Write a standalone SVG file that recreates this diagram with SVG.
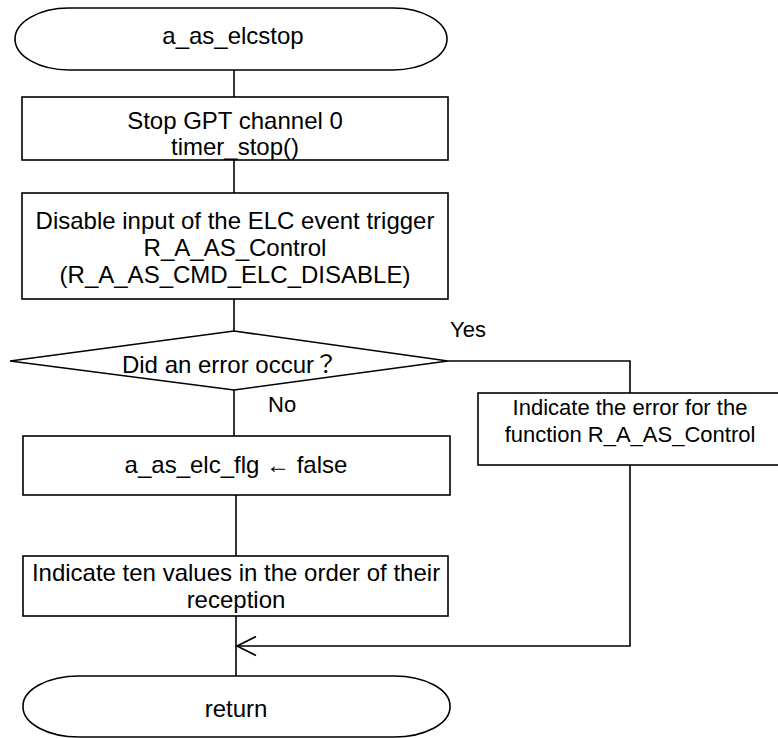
<svg xmlns="http://www.w3.org/2000/svg" width="778" height="738" viewBox="0 0 778 738">
  <style>
    .shape { fill: #ffffff; stroke: #000000; stroke-width: 1.6; }
    .line { fill: none; stroke: #000000; stroke-width: 1.6; }
    .t { font-family: "Liberation Sans", Arial, "Noto Sans CJK JP", sans-serif; font-size: 24px; fill: #000000; text-anchor: middle; }
    .s { font-size: 22px; }
    .l { text-anchor: start; }
  </style>
  <rect x="0" y="0" width="778" height="738" fill="#ffffff"/>

  <!-- connectors -->
  <g id="connectors">
    <path class="line" d="M234 70 V97"/>
    <path class="line" d="M234 160 V193"/>
    <path class="line" d="M234 299 V331"/>
    <path class="line" d="M448 361 H630 V393"/>
    <path class="line" d="M234 390 V436"/>
    <path class="line" d="M236 495 V556"/>
    <path class="line" d="M236 616 V676"/>
    <path class="line" d="M630 465 V646 H237"/>
    <path class="line" d="M256 636.5 L237 646 L256 655.5"/>
    <text class="t s l" x="450" y="337">Yes</text>
    <text class="t s l" x="268" y="412">No</text>
  </g>

  <g id="start">
    <rect class="shape" x="15" y="8" width="432" height="62" rx="54" ry="31"/>
    <text class="t" x="233" y="44">a_as_elcstop</text>
  </g>

  <g id="stop-gpt">
    <rect class="shape" x="22" y="97" width="426" height="63"/>
    <text class="t" x="235" y="129">Stop GPT channel 0</text>
    <text class="t" x="235" y="155">timer_stop()</text>
  </g>

  <g id="elc-disable">
    <rect class="shape" x="22" y="193" width="426" height="106"/>
    <text class="t" x="235" y="229">Disable input of the ELC event trigger</text>
    <text class="t" x="235" y="256">R_A_AS_Control</text>
    <text class="t" x="235" y="283">(R_A_AS_CMD_ELC_DISABLE)</text>
  </g>

  <g id="error-check">
    <polygon class="shape" points="234,331 448,361 234,390 10,361"/>
    <text class="t" x="230" y="373">Did an error occur？</text>
  </g>

  <g id="error-report">
    <rect class="shape" x="478" y="393" width="310" height="72"/>
    <text class="t s" x="630" y="415">Indicate the error for the</text>
    <text class="t s" x="630" y="442">function R_A_AS_Control</text>
  </g>

  <g id="clear-flag">
    <rect class="shape" x="23" y="436" width="427" height="59"/>
    <text class="t" x="236" y="473">a_as_elc_flg ← false</text>
  </g>

  <g id="show-values">
    <rect class="shape" x="23" y="556" width="425" height="60"/>
    <text class="t" x="236" y="581">Indicate ten values in the order of their</text>
    <text class="t" x="236" y="608">reception</text>
  </g>

  <g id="end">
    <rect class="shape" x="23" y="676" width="427" height="61" rx="56" ry="30"/>
    <text class="t" x="236" y="717">return</text>
  </g>
</svg>
